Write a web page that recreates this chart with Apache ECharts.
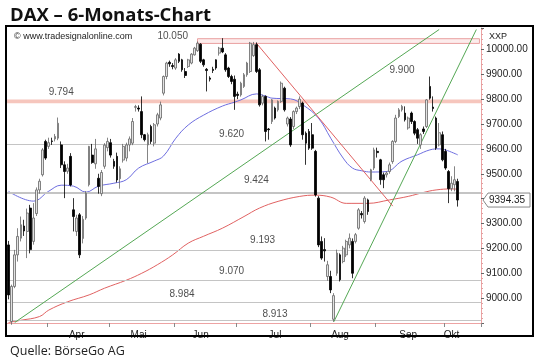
<!DOCTYPE html>
<html><head><meta charset="utf-8">
<script src="https://cdn.jsdelivr.net/npm/echarts@6/dist/echarts.min.js"></script>
<style>html,body{margin:0;padding:0;background:#fff}#c{width:540px;height:361px}</style>
</head><body><div id="c"></div>
<script>
// trading-day slots (category index), month ticks & labels
const slotCount = 153;
const monthNames = ['Apr','Mai','Jun','Jul','Aug','Sep','Okt'];
const monthTickIdx = [13, 33, 54, 74, 98, 119, 141];
const monthLabelIdx = [22, 42, 62, 86, 107, 129, 143];
const yTicks = [9000, 9100, 9200, 9300, 9500, 9600, 9700, 9800, 9900, 10000];

// daily candles: open, close, low, high
const candleOpen = [9214,8906,9047,9174,9241,9290,9268,9362,9228,9340,9435,9496,9630,9610,9632,9640,9643,9616,9536,9510,9570,9355,9268,9335,9240,9322,9456,9575,9540,9482,9420,9530,9605,9625,9550,9570,9480,9555,9563,9616,9623,9767,9764,9750,9657,9616,9690,9623,9700,9724,9824,9891,9948,9935,9925,9981,9958,9911,9931,9945,9978,9995,10021,9958,9920,9885,9920,9958,9985,10005,9978,9925,9891,9880,9820,9817,9851,9898,9911,9975,10019,9918,9784,9811,9680,9710,9764,9757,9791,9844,9700,9720,9690,9750,9770,9784,9663,9670,9657,9590,9402,9228,9195,9087,9087,8915,9100,9174,9147,9174,9214,9228,9228,9281,9340,9308,9395,9476,9523,9590,9556,9496,9496,9509,9549,9630,9730,9757,9744,9684,9744,9710,9677,9616,9680,9690,9851,9768,9724,9616,9657,9590,9509,9440,9456,9469];
const candleClose = [9013,9047,9174,9248,9295,9270,9342,9195,9322,9435,9470,9596,9563,9625,9630,9650,9703,9536,9509,9523,9455,9328,9322,9174,9317,9422,9610,9545,9600,9449,9505,9615,9630,9575,9530,9475,9520,9610,9616,9640,9710,9770,9760,9657,9637,9657,9630,9697,9737,9777,9891,9945,9942,9931,9958,9952,9918,9895,9958,9981,10005,10025,9952,9938,9915,9880,9915,9925,10005,9990,9918,9891,9871,9811,9815,9864,9898,9945,10025,10019,9911,9777,9811,9670,9677,9797,9724,9791,9864,9757,9724,9616,9750,9764,9800,9657,9623,9603,9603,9415,9214,9161,9190,9134,9033,9010,9181,9074,9201,9228,9241,9100,9255,9355,9335,9402,9348,9516,9596,9585,9476,9476,9503,9536,9630,9724,9757,9771,9717,9724,9710,9663,9643,9657,9670,9797,9804,9762,9603,9665,9556,9523,9440,9462,9476,9394.35];
const candleLow = [8995,8893,9040,9147,9228,9250,9161,9180,9215,9330,9420,9489,9556,9600,9616,9630,9635,9523,9402,9500,9449,9268,9250,9161,9220,9315,9449,9540,9520,9420,9410,9520,9590,9565,9520,9465,9440,9545,9550,9590,9615,9750,9750,9643,9630,9543,9620,9610,9690,9715,9815,9880,9930,9920,9918,9945,9910,9885,9925,9940,9975,9990,9945,9930,9831,9871,9905,9918,9975,9985,9910,9885,9860,9757,9800,9810,9845,9890,9905,9970,9905,9770,9775,9630,9637,9700,9718,9750,9785,9750,9690,9608,9680,9740,9760,9637,9536,9596,9596,9408,9205,9154,9147,9070,9020,8905,9090,9067,9140,9165,9200,9080,9220,9275,9320,9300,9335,9470,9515,9565,9456,9442,9485,9500,9540,9623,9724,9750,9710,9677,9700,9655,9620,9600,9660,9684,9798,9750,9596,9610,9550,9516,9382,9430,9429,9368];
const candleHigh = [9230,9054,9194,9281,9328,9315,9360,9375,9382,9445,9480,9603,9637,9645,9645,9660,9726,9630,9550,9540,9583,9402,9335,9342,9330,9430,9612,9620,9640,9500,9515,9623,9645,9640,9560,9585,9530,9620,9625,9650,9724,9777,9775,9811,9660,9665,9697,9704,9745,9790,9895,9950,9955,9945,9965,9985,9962,9925,9962,9985,10010,10032,10025,9962,9925,9892,9930,9960,10010,10045,9985,9930,9898,9895,9830,9870,9905,9950,10030,10030,10028,9925,9818,9815,9684,9800,9770,9795,9871,9850,9730,9728,9755,9770,9811,9790,9670,9680,9704,9596,9410,9248,9241,9150,9110,9020,9195,9180,9210,9235,9260,9240,9262,9362,9350,9410,9400,9520,9605,9605,9560,9505,9510,9545,9635,9737,9764,9777,9771,9730,9750,9715,9684,9663,9690,9800,9891,9811,9730,9704,9670,9600,9515,9490,9530,9480];

// moving averages: [slot, value]
const maBlue = [[0,9429],[8,9390],[13,9430],[17,9454],[21,9450],[25,9426],[29,9450],[34,9462],[38,9476],[42,9523],[47,9551],[50,9571],[54,9643],[58,9696],[63,9736],[69,9772],[73,9788],[75,9797],[80,9821],[83,9812],[85,9804],[91,9801],[95,9777],[100,9724],[104,9643],[108,9563],[111,9523],[114,9512],[117,9507],[122,9509],[127,9551],[132,9576],[136,9596],[139,9600],[141,9596],[145,9576]];
const maRed = [[0,8902],[4,8911],[10,8926],[13,8952],[19,8985],[26,9013],[31,9040],[38,9072],[43,9100],[48,9134],[53,9174],[58,9221],[63,9249],[69,9281],[76,9328],[81,9362],[87,9389],[94,9409],[99,9414],[104,9406],[109,9381],[116,9381],[123,9395],[129,9409],[134,9425],[138,9435],[143,9439],[145,9438]];

// horizontal levels & trendlines
const grayLevels = [9620, 9424, 9193, 9070, 8984, 8913];
const level9900 = {from: 51, value: 9900};
const band9794 = [9783, 9799];
const band10050 = {from: 61, low: 10024, high: 10043};
const greenLine1 = [[1.5, 8902], [138.8, 10080]];
const greenLine2 = [[105, 8905], [151.3, 10080]];
const redTrend = [[80, 10025], [124, 9370]];
const lastPrice = 9394.35;
const levelLabels = [[53.4,10053.5,'10.050'],[16.9,9828,'9.794'],[127.2,9915,'9.900'],[71.8,9659,'9.620'],[79.8,9472,'9.424'],[81.8,9233,'9.193'],[71.8,9110,'9.070'],[56.3,9017,'8.984'],[86,8937,'8.913']];

const categories = Array.from({length: slotCount}, (_, i) => String(i));
const candles = candleOpen.map((o, i) => [o, candleClose[i], candleLow[i], candleHigh[i]]);

const chart = echarts.init(document.getElementById('c'), null, {renderer: 'canvas'});
const AR = 'Liberation Sans, Arial, sans-serif';
chart.setOption({
  animation: false,
  backgroundColor: '#fff',
  title: [
    {text: 'DAX – 6-Monats-Chart', left: 5, top: 1, textStyle: {fontFamily: 'Open Sans', fontWeight: 'bold', fontSize: 18.5, color: '#111'}},
    {text: 'Quelle: BörseGo AG', left: 5, top: 340, textStyle: {fontFamily: 'Open Sans', fontWeight: 'normal', fontSize: 12.5, color: '#222'}},
    {text: '© www.tradesignalonline.com', left: 9, top: 27, textStyle: {fontFamily: AR, fontWeight: 'normal', fontSize: 9, color: '#222'}},
    {text: 'XXP', left: 484, top: 27, textStyle: {fontFamily: AR, fontWeight: 'normal', fontSize: 9, color: '#222'}}
  ],
  graphic: [{type: 'rect', shape: {x: 6, y: 26, width: 527, height: 310}, style: {fill: 'none', stroke: '#000', lineWidth: 2}, silent: true, z: 100}],
  grid: {left: 7, right: 59, top: 28, bottom: 38},
  xAxis: {
    type: 'category', data: categories, boundaryGap: true,
    axisLine: {lineStyle: {color: '#eda3a3', width: 1}},
    axisTick: {show: true, length: 4, lineStyle: {color: '#888'}, interval: (i) => monthTickIdx.includes(i)},
    axisLabel: {interval: (i) => monthLabelIdx.includes(i), formatter: (v) => monthNames[monthLabelIdx.indexOf(Number(v))] || '', fontFamily: AR, fontSize: 10, color: '#222', margin: 7},
    splitLine: {show: false}
  },
  yAxis: {
    type: 'value', position: 'right', min: 8900, max: 10086, interval: 100, scale: true,
    axisLine: {show: true, lineStyle: {color: '#eda3a3'}},
    axisTick: {show: true, length: 3, lineStyle: {color: '#666'}},
    minorTick: {show: true, splitNumber: 5, length: 2, lineStyle: {color: '#e3a0a0'}},
    axisLabel: {margin: 5, fontFamily: AR, fontSize: 10, color: '#222', formatter: (v) => yTicks.includes(v) ? v.toFixed(2) : ''},
    splitLine: {show: false}
  },
  series: [
    {
      type: 'candlestick', data: candles, barWidth: '72%', z: 5, clip: false,
      itemStyle: {color: '#e2e2e2', color0: '#000', borderColor: '#666', borderColor0: '#000', borderWidth: 0.8},
      markArea: {silent: true, data: [
        [{yAxis: band9794[0], itemStyle: {color: '#f6c6bd'}}, {yAxis: band9794[1]}],
        [{coord: [band10050.from, band10050.high], itemStyle: {color: '#fcecec', borderColor: '#e9a0a0', borderWidth: 1}}, {coord: [slotCount - 0.5, band10050.low]}]
      ]},
      markLine: {silent: true, symbol: 'none', animation: false, label: {show: false},
        data: [
          ...grayLevels.map(v => ({yAxis: v, lineStyle: {color: '#c4c4c4', width: v === 9424 ? 1.8 : 1.2, type: 'solid'}})),
          [{coord: [level9900.from, level9900.value], lineStyle: {color: '#c4c4c4', width: 1.2, type: 'solid'}}, {coord: [slotCount - 0.5, level9900.value]}],
          [{coord: greenLine1[0], lineStyle: {color: '#55a855', width: 1, type: 'solid'}}, {coord: greenLine1[1]}],
          [{coord: greenLine2[0], lineStyle: {color: '#55a855', width: 1, type: 'solid'}}, {coord: greenLine2[1]}],
          [{coord: redTrend[0], lineStyle: {color: '#e06060', width: 1, type: 'solid'}}, {coord: redTrend[1]}]
        ]}
    },
    {type: 'line', data: maBlue, smooth: 0.4, symbol: 'none', z: 4, lineStyle: {color: '#6e6ee0', width: 1}},
    {type: 'line', data: maRed, smooth: 0.4, symbol: 'none', z: 4, lineStyle: {color: '#e06262', width: 1}},
    {type: 'scatter', data: levelLabels, symbolSize: 0, z: 6, silent: true,
      label: {show: true, position: 'inside', formatter: (p) => p.value[2], fontFamily: AR, fontSize: 10, color: '#222'}}
  ]
});

// last-price tag on the right axis, positioned through the value axis scale
const tagY = chart.convertToPixel({yAxisIndex: 0}, lastPrice);
const tagX = chart.convertToPixel({xAxisIndex: 0}, slotCount - 1) + 3.1 / 2 + 2;
chart.setOption({graphic: [
  {type: 'rect', shape: {x: 6, y: 26, width: 527, height: 310}, style: {fill: 'none', stroke: '#000', lineWidth: 2}, silent: true, z: 100},
  {type: 'group', silent: true, z: 50, children: [
    {type: 'polygon', shape: {points: [[tagX, tagY], [tagX + 5, tagY - 7], [tagX + 47, tagY - 7], [tagX + 47, tagY + 7], [tagX + 5, tagY + 7]]}, style: {fill: '#fff', stroke: '#888', lineWidth: 1}},
    {type: 'text', x: tagX + 6, y: tagY, style: {text: lastPrice.toFixed(2), fontFamily: AR, fontSize: 10, fill: '#222', verticalAlign: 'middle'}}
  ]}
]});
</script></body></html>
